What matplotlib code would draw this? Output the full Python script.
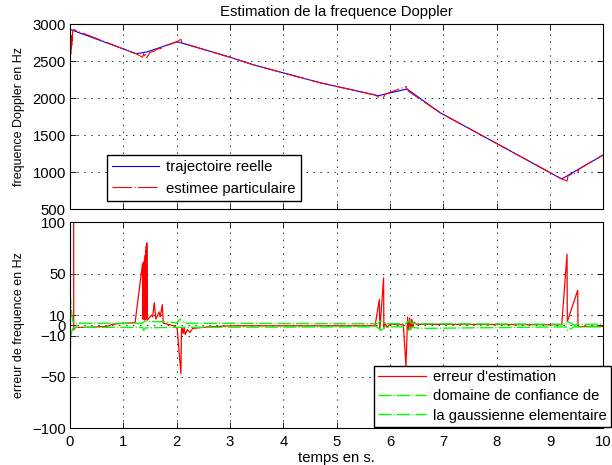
import matplotlib
matplotlib.use('Agg')
import matplotlib.pyplot as plt

plt.rcParams['font.family'] = ['Liberation Sans', 'DejaVu Sans']
plt.rcParams['font.size'] = 10.7
plt.rcParams['lines.scale_dashes'] = False

# trajectoire reelle (frequence Doppler, Hz)
t_true = [0, 1.24, 1.44, 2.01, 3.0, 3.45, 4.69, 5.78, 6.32, 6.94, 7.94, 9.22, 10]
f_true = [2932, 2603, 2625, 2765, 2555, 2450, 2210, 2035, 2126, 1805, 1413, 909, 1235]

# estimee particulaire
t_est = [0, 0.005, 0.01, 0.015, 0.02, 0.025, 0.03, 0.035, 0.04, 0.05, 0.06, 0.07,
         1.24, 1.36, 1.38, 1.40, 1.41, 1.42, 1.44, 1.5, 1.58, 1.62, 1.73, 1.76,
         2.01, 2.08, 2.1, 3.0, 3.45, 4.69, 5.72, 5.8, 5.82, 5.88, 5.9,
         6.3, 6.32, 6.35, 6.94, 7.94, 9.22, 9.32, 9.34, 9.52, 9.55, 10]
f_est = [1610, 2200, 2650, 2600, 2760, 2650, 2850, 2700, 2790, 2900, 2925, 2928,
         2601, 2556, 2600, 2560, 2590, 2556, 2550, 2620, 2637, 2663, 2676, 2701,
         2767, 2797, 2749, 2555, 2450, 2210, 2045, 2011, 2038, 2006, 2053,
         2160, 2126, 2093, 1805, 1413, 911, 882, 955, 1000, 1047, 1235]

# erreur d'estimation (Hz)
t_err = [0, 0.055, 0.07, 0.1, 0.3, 0.5, 0.7, 0.8, 1.0, 1.22,
         1.36, 1.365, 1.37, 1.375, 1.38, 1.385, 1.39, 1.395, 1.40, 1.405, 1.41, 1.415,
         1.42, 1.425, 1.43, 1.435, 1.44, 1.45, 1.53, 1.55, 1.58, 1.61, 1.67, 1.69,
         1.73, 1.75, 1.8, 1.95, 2.01, 2.08, 2.09, 2.1, 2.12, 2.14, 2.16, 2.2, 2.25,
         2.3, 2.6, 3.0, 5.72, 5.80, 5.81, 5.88, 5.885, 5.9, 5.95, 6.0, 6.25,
         6.30, 6.33, 6.35, 6.37, 6.39, 6.41, 6.43, 6.45, 6.5, 9.22, 9.32, 9.325,
         9.52, 9.525, 10]
e_err = [1330, 1300, -4.5, -2, -2, -1.5, -1, 1, 2, 2.5,
         60, 6, 55, 8, 58, 6, 62, 9, 64, 5, 68, 10,
         72, 6, 77, 8, 80, 5, 10, 8, 22, 6, 13, 8,
         20, 2, 1.5, -0.5, -3, -47, -5, -3, -8, -2, -9, -4, -7,
         -3, -1.5, -0.5, -0.5, 25, -4, 46, -3, 2, -2, 1, 0.5,
         -40, 8, -5, 7, -4, 6, -2, 3, 1, 0.5, 69, 3.5,
         34, -1.3, -1]

# domaine de confiance de la gaussienne elementaire (bornes)
t_up = [0, 0.02, 0.05, 0.1, 1.36, 1.4, 1.9, 2.0, 2.06, 2.15, 5.76, 5.82, 5.86, 5.9,
        6.3, 6.35, 6.4, 6.6, 9.3, 9.33, 9.47, 9.5, 10]
g_up = [33, 18, 4, 2, 2, 4, 3, 2, 6, 2, 1.5, 4, 3.5, 1.5,
        1.5, 4.5, 2, 1.5, 1, 3.5, 0, 1, 1]
t_lo = [0, 0.02, 0.05, 0.1, 1.36, 1.38, 1.42, 1.9, 5.76, 5.82, 5.86, 5.9,
        6.3, 6.35, 6.4, 6.6, 9.3, 9.33, 9.47, 9.5, 10]
g_lo = [-28, -9, -3, -2, -2, -5, -2.5, -2, -1.5, -5, -4, -1.5,
        -1.5, -5, -2, -3, -1.5, -5, -1.3, -1.5, -1.5]

fig = plt.figure(figsize=(6.12, 4.65), dpi=100)
ax1 = fig.add_axes([70 / 612, 1 - 209.3 / 465, 533.3 / 612, 185 / 465])
ax2 = fig.add_axes([70 / 612, 1 - 428.3 / 465, 533.3 / 612, 206 / 465])

dashdot_red = (0, (14, 1.8, 0.8, 1.8))
dashdot_green = (0, (9.5, 1.5, 0.8, 1.5))

ax1.plot(t_true, f_true, color='blue', lw=0.8, label='trajectoire reelle')
ax1.plot(t_est, f_est, color='red', lw=0.8, linestyle=dashdot_red,
         label='estimee particulaire')
ax1.set_xlim(0, 10)
ax1.set_ylim(500, 3000)
ax1.set_xticks(range(11))
ax1.set_xticklabels([])
ax1.set_yticks([500, 1000, 1500, 2000, 2500, 3000])
ax1.set_ylabel('frequence Doppler en Hz', fontsize=9)
ax1.yaxis.set_label_coords(-45 / 533.3, 0.5)
ax1.set_title('Estimation de la frequence Doppler', fontsize=10.7, pad=6)
ax1.legend(loc='upper left', bbox_to_anchor=(106.7 / 612, 1 - 155 / 465),
           bbox_transform=fig.transFigure, borderaxespad=0, fancybox=False,
           edgecolor='black', framealpha=1, handlelength=3.2, handletextpad=0.45,
           labelspacing=0.5, borderpad=0.35)

ax2.plot(t_err, e_err, color='red', lw=0.9, label="erreur d'estimation")
ax2.plot(t_up, g_up, color='#00ff00', lw=1.0, linestyle=dashdot_green,
         label='domaine de confiance de')
ax2.plot(t_lo, g_lo, color='#00ff00', lw=1.0, linestyle=dashdot_green,
         label='la gaussienne elementaire')
ax2.set_xlim(0, 10)
ax2.set_ylim(-100, 100)
ax2.set_xticks(range(11))
ax2.set_yticks([-100, -50, -10, 0, 10, 50, 100])
ax2.set_ylabel('erreur de frequence en Hz', fontsize=9)
ax2.yaxis.set_label_coords(-45 / 533.3, 0.5)
ax2.set_xlabel('temps en s.', labelpad=1)
ax2.legend(loc='upper left', bbox_to_anchor=(374 / 612, 1 - 365.7 / 465),
           bbox_transform=fig.transFigure, borderaxespad=0, fancybox=False,
           edgecolor='black', framealpha=1, handlelength=3.2, handletextpad=0.45,
           labelspacing=0.35, borderpad=0.3)

for ax in (ax1, ax2):
    ax.grid(True, color='black', linestyle=(0, (1, 4)), linewidth=0.6)
    ax.tick_params(direction='in', top=True, right=True, length=4, width=0.6,
                   pad=3)
    ax.tick_params(axis='x', pad=5)
    for s in ax.spines.values():
        s.set_linewidth(0.8)

fig.savefig('out.png', dpi=100)
